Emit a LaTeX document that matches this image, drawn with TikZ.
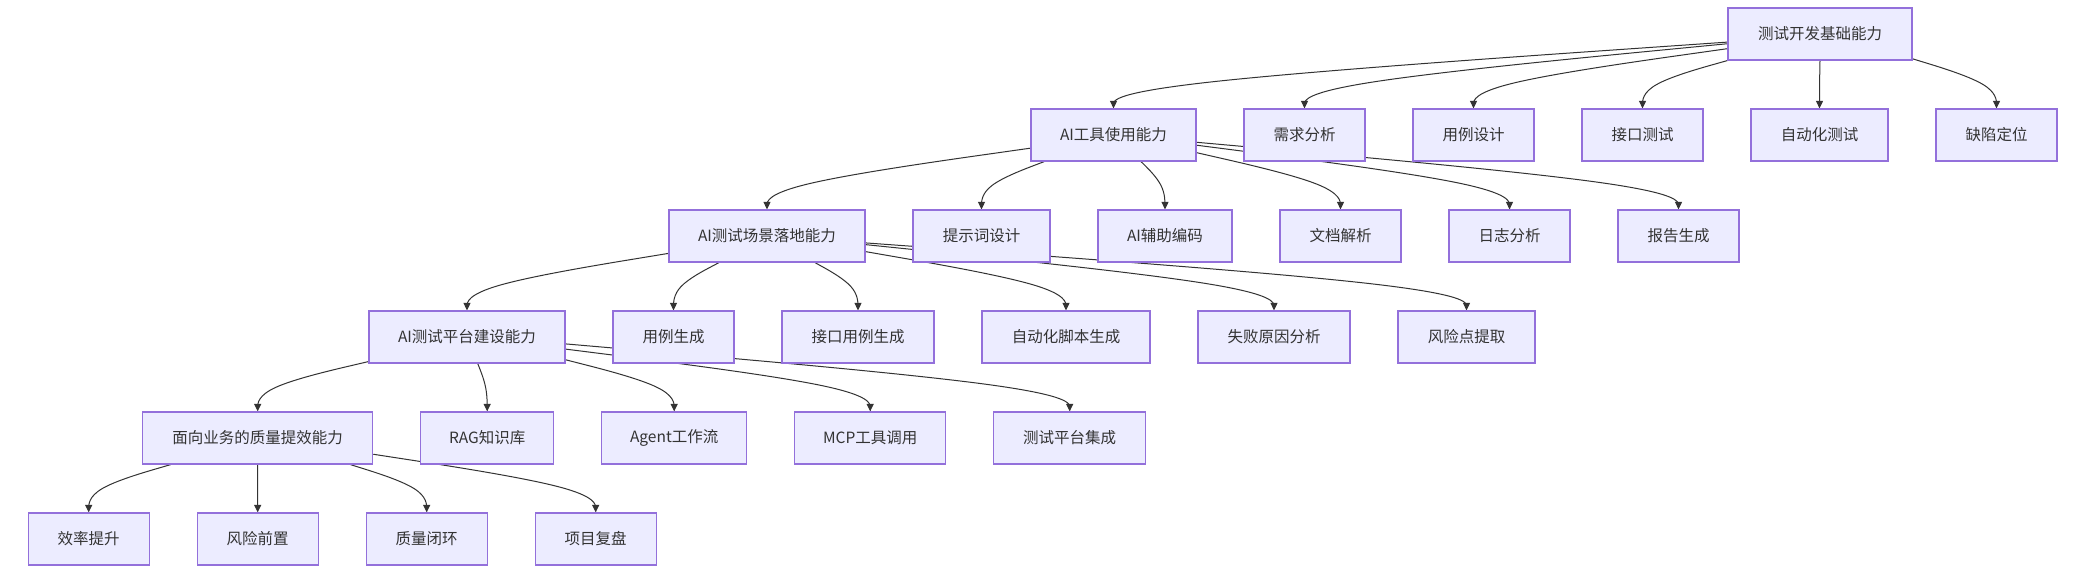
\documentclass[tikz,border=0pt]{standalone}
\usepackage{fontspec}
\newfontfamily\cjk{Noto Sans CJK SC}
\usetikzlibrary{calc,arrows.meta,backgrounds}
\definecolor{boxfill}{HTML}{ECECFF}
\definecolor{boxline}{HTML}{9370DB}
\definecolor{edgecol}{HTML}{333333}
\definecolor{textcol}{HTML}{333333}
\tikzset{
  box/.style={draw=boxline, fill=boxfill, line width=1.2pt, minimum height=52pt,
    inner sep=0pt, text=textcol, font=\cjk\fontsize{15.5}{18}\selectfont, anchor=center},
  edge/.style={draw=edgecol, line width=1pt, -{Triangle[length=7.5pt,width=7pt]}}
}
\newcommand\edg[2]{%
  \coordinate (eM) at ($(#2.north)!0.5!(#2.north|-#1.south)$);
  \coordinate (eE) at (#2.north);
  \path let \p1=(#1.center), \p2=(eM), \n1={atan2(\y2-\y1,\x2-\x1)} in
    coordinate (eS) at (#1.\n1);
  \draw[edge] (eS) -- ($(eS)!0.16667!(eM)$)
    .. controls ($(eS)!0.33333!(eM)$) and ($(eS)!0.66667!(eM)$)
    .. ($0.16667*(eS)+0.66667*(eM)+0.16667*(eE)$)
    .. controls ($(eM)!0.33333!(eE)$) and ($(eM)!0.66667!(eE)$)
    .. ($(eM)!0.83333!(eE)$) -- (eE);
}
\begin{document}
\begin{tikzpicture}[x=1pt,y=-1pt]
\useasboundingbox (0,0) rectangle (2086,574);
% row 0
\node[box, minimum width=184pt] (root) at (1820,34) {测试开发基础能力};
% row 1
\node[box, minimum width=165pt] (a1) at (1113.5,135) {AI工具使用能力};
\node[box, minimum width=121pt] (a2) at (1304.5,135) {需求分析};
\node[box, minimum width=121pt] (a3) at (1473.5,135) {用例设计};
\node[box, minimum width=121pt] (a4) at (1642.5,135) {接口测试};
\node[box, minimum width=137pt] (a5) at (1819.5,135) {自动化测试};
\node[box, minimum width=121pt] (a6) at (1996.5,135) {缺陷定位};
% row 2
\node[box, minimum width=196pt] (b1) at (767,236) {AI测试场景落地能力};
\node[box, minimum width=137pt] (b2) at (981.5,236) {提示词设计};
\node[box, minimum width=134pt] (b3) at (1165,236) {AI辅助编码};
\node[box, minimum width=121pt] (b4) at (1340.5,236) {文档解析};
\node[box, minimum width=121pt] (b5) at (1509.5,236) {日志分析};
\node[box, minimum width=121pt] (b6) at (1678.5,236) {报告生成};
% row 3
\node[box, minimum width=196pt] (c1) at (467,337) {AI测试平台建设能力};
\node[box, minimum width=121pt] (c2) at (673.5,337) {用例生成};
\node[box, minimum width=152pt] (c3) at (858,337) {接口用例生成};
\node[box, minimum width=168pt] (c4) at (1066,337) {自动化脚本生成};
\node[box, minimum width=152pt] (c5) at (1274,337) {失败原因分析};
\node[box, minimum width=137pt] (c6) at (1466.5,337) {风险点提取};
% row 4
\node[box, minimum width=230pt] (d1) at (257.7,438) {面向业务的质量提效能力};
\node[box, minimum width=133pt] (d2) at (487.2,438) {RAG知识库};
\node[box, minimum width=145pt] (d3) at (674.2,438) {Agent工作流};
\node[box, minimum width=151pt] (d4) at (870.2,438) {MCP工具调用};
\node[box, minimum width=152pt] (d5) at (1069.7,438) {测试平台集成};
% row 5
\node[box, minimum width=121pt] (e1) at (88.7,539) {效率提升};
\node[box, minimum width=121pt] (e2) at (257.7,539) {风险前置};
\node[box, minimum width=121pt] (e3) at (426.7,539) {质量闭环};
\node[box, minimum width=121pt] (e4) at (595.7,539) {项目复盘};
\begin{pgfonlayer}{background}
\fill[white] (0,0) rectangle (2086,574);
\foreach \c in {a1,a2,a3,a4,a5,a6}{\edg{root}{\c}}
\foreach \c in {b1,b2,b3,b4,b5,b6}{\edg{a1}{\c}}
\foreach \c in {c1,c2,c3,c4,c5,c6}{\edg{b1}{\c}}
\foreach \c in {d1,d2,d3,d4,d5}{\edg{c1}{\c}}
\foreach \c in {e1,e2,e3,e4}{\edg{d1}{\c}}
\end{pgfonlayer}
\end{tikzpicture}
\end{document}
